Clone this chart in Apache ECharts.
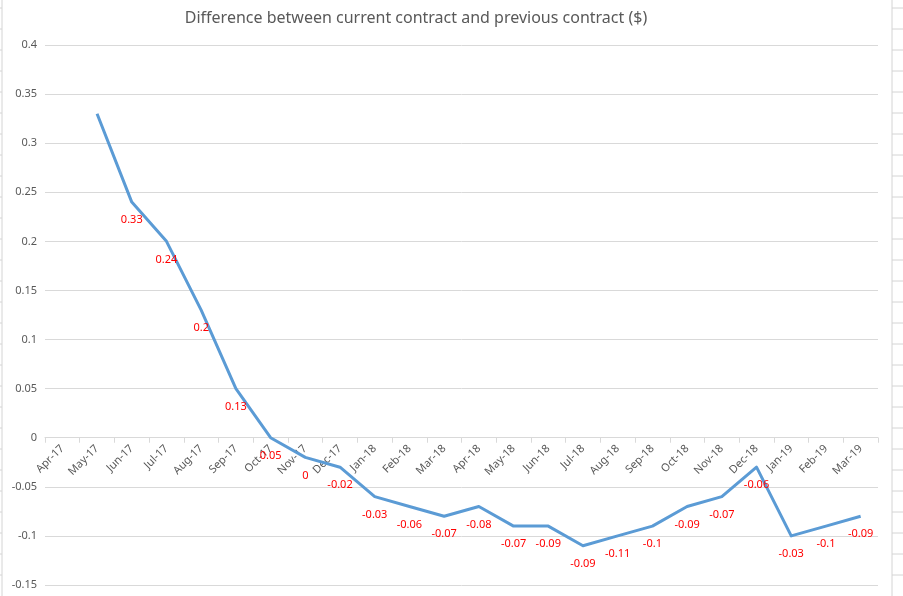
<!DOCTYPE html>
<html>
<head>
<meta charset="utf-8">
<script src="https://cdn.jsdelivr.net/npm/echarts@6/dist/echarts.min.js"></script>
<style>
  html, body { margin: 0; padding: 0; background: #fff; }
  #chart { width: 903px; height: 596px; }
</style>
</head>
<body>
<div id="chart"></div>
<script>
var months = ['Apr-17', 'May-17', 'Jun-17', 'Jul-17', 'Aug-17', 'Sep-17', 'Oct-17', 'Nov-17',
    'Dec-17', 'Jan-18', 'Feb-18', 'Mar-18', 'Apr-18', 'May-18', 'Jun-18', 'Jul-18',
    'Aug-18', 'Sep-18', 'Oct-18', 'Nov-18', 'Dec-18', 'Jan-19', 'Feb-19', 'Mar-19'];

// line values per month (Apr-17 has no value)
var diffValues = [null, 0.33, 0.24, 0.20, 0.13, 0.05, 0.00, -0.02,
    -0.03, -0.06, -0.07, -0.08, -0.07, -0.09, -0.09, -0.11,
    -0.10, -0.09, -0.07, -0.06, -0.03, -0.10, -0.09, -0.08];

// data labels as they appear in the picture (shifted by one month)
var labelText = [null, null, '0.33', '0.24', '0.2', '0.13', '0.05', '0',
    '-0.02', '-0.03', '-0.06', '-0.07', '-0.08', '-0.07', '-0.09', '-0.09',
    '-0.11', '-0.1', '-0.09', '-0.07', '-0.06', '-0.03', '-0.1', '-0.09'];

var yMin = -0.15, yMax = 0.4, yStep = 0.05;

var font = 'Noto Sans, Open Sans, sans-serif';
var chart = echarts.init(document.getElementById('chart'));

var gridTop = 45, gridBottom = 11, chartH = 596;
// category labels sit next to the zero line, not at the bottom of the grid
var plotH = chartH - gridTop - gridBottom;
var zeroFromBottom = plotH * (0 - yMin) / (yMax - yMin);

// spreadsheet cell borders peeking in at the edges
var sheetEdges = [
    {type: 'line', silent: true, shape: {x1: 892, y1: 0, x2: 892, y2: 596}, style: {stroke: '#d4d4d4', lineWidth: 1}},
    {type: 'line', silent: true, shape: {x1: 2, y1: 0, x2: 2, y2: 596}, style: {stroke: '#d4d4d4', lineWidth: 1}}
];
for (var y = 8; y < 596; y += 21) {
    sheetEdges.push({type: 'line', silent: true, shape: {x1: 892, y1: y, x2: 903, y2: y}, style: {stroke: '#d4d4d4', lineWidth: 1}});
    sheetEdges.push({type: 'line', silent: true, shape: {x1: 0, y1: y, x2: 2, y2: y}, style: {stroke: '#d4d4d4', lineWidth: 1}});
}

chart.setOption({
    animation: false,
    textStyle: {fontFamily: font},
    title: {
        text: 'Difference between current contract and previous contract ($)',
        left: 411,
        textAlign: 'center',
        top: 5,
        textStyle: {fontSize: 16, fontWeight: 'normal', color: '#595959', fontFamily: font}
    },
    grid: {left: 45, right: 25, top: gridTop, bottom: gridBottom, containLabel: false, outerBoundsMode: 'none'},
    xAxis: {
        type: 'category',
        data: months,
        boundaryGap: true,
        axisLine: {onZero: true, lineStyle: {color: '#d9d9d9', width: 1}},
        axisTick: {show: true, inside: false, length: 5, alignWithLabel: false, lineStyle: {color: '#d9d9d9'}},
        axisLabel: {rotate: 45, color: '#595959', fontSize: 11, margin: 9 - zeroFromBottom, interval: 0}
    },
    yAxis: {
        type: 'value',
        min: yMin,
        max: yMax,
        interval: yStep,
        axisLine: {show: false},
        axisTick: {show: false},
        splitLine: {lineStyle: {color: '#d9d9d9', width: 1}},
        axisLabel: {
            color: '#595959',
            fontSize: 11,
            margin: 8,
            formatter: function (v) {
                return String(parseFloat(v.toFixed(2)));
            }
        }
    },
    series: [
        {
            type: 'line',
            data: diffValues,
            showSymbol: true,
            symbol: 'circle',
            symbolSize: 1,
            itemStyle: {color: 'rgba(91,155,213,0)', borderWidth: 0},
            lineStyle: {color: '#5b9bd5', width: 3, join: 'round'},
            labelLayout: {hideOverlap: false},
            label: {
                show: true,
                position: 'bottom',
                distance: 12,
                color: '#ff0000',
                opacity: 1,
                fontSize: 11,
                formatter: function (p) {
                    return labelText[p.dataIndex] || '';
                }
            }
        }
    ],
    graphic: sheetEdges
});
</script>
</body>
</html>
